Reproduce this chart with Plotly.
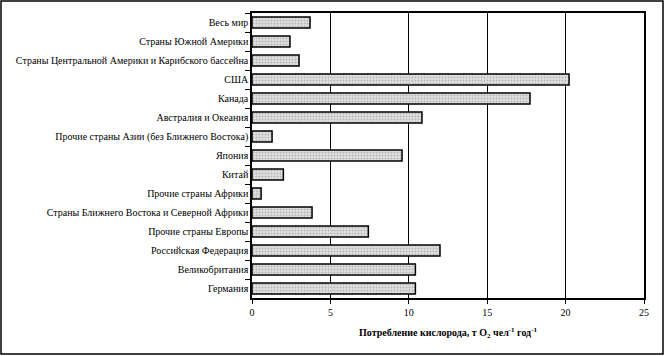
import plotly.graph_objects as go

categories = [
    "Весь мир",
    "Страны Южной Америки",
    "Страны Центральной Америки и Карибского бассейна",
    "США",
    "Канада",
    "Австралия и Океания",
    "Прочие страны Азии (без Ближнего Востока)",
    "Япония",
    "Китай",
    "Прочие страны Африки",
    "Страны Ближнего Востока и Северной Африки",
    "Прочие страны Европы",
    "Российская Федерация",
    "Великобритания",
    "Германия",
]
values = [3.70, 2.42, 3.00, 20.22, 17.73, 10.84, 1.28, 9.57, 2.00, 0.58, 3.83, 7.42, 11.99, 10.42, 10.42]
x_ticks = [0, 5, 10, 15, 20, 25]
x_title = "<b>Потребление кислорода, т O<sub>2</sub> чел<sup>-1</sup> год<sup>-1</sup></b>"

fig = go.Figure(go.Bar(
    x=values, y=categories, orientation="h",
    marker=dict(
        color="#d4d4d4",
        line=dict(color="black", width=1.5),
        pattern=dict(shape=".", fgcolor="#8a8a8a", bgcolor="#e0e0e0", size=3, solidity=0.35),
    ),
    width=0.58,
))

W, H = 665, 356
L, R, T, B = 252, 21, 13, 58
pw, ph = W - L - R, H - T - B

def px(xp):
    return (xp - L) / pw

def py(yp):
    return (H - B - yp) / ph

fig.update_layout(
    width=W, height=H,
    margin=dict(l=L, r=R, t=T, b=B, autoexpand=False),
    paper_bgcolor="white", plot_bgcolor="white",
    font=dict(family="Liberation Serif", size=10, color="black"),
    showlegend=False,
    xaxis=dict(
        range=[0, 25], tickvals=x_ticks, ticktext=[str(v) for v in x_ticks],
        showgrid=True, gridcolor="black", gridwidth=1,
        showline=True, linecolor="black", linewidth=1.5, mirror=True,
        ticks="outside", ticklen=4, tickcolor="black",
        zeroline=False, automargin=False,
        title=dict(text=x_title, font=dict(size=10), standoff=12),
    ),
    yaxis=dict(
        categoryorder="array", categoryarray=categories, autorange="reversed",
        showline=True, linecolor="black", linewidth=1.5, mirror=True,
        ticks="outside", ticklen=5, tickcolor="black", tickson="boundaries",
        showgrid=False, automargin=False,
    ),
    shapes=[dict(
        type="rect", xref="paper", yref="paper",
        x0=px(1), x1=px(663), y0=py(354), y1=py(1),
        line=dict(color="black", width=1.5), fillcolor="rgba(0,0,0,0)", layer="below",
    )],
)

fig.write_html(
    "out.html",
    config={"displayModeBar": False},
    post_script="document.body.style.margin='0';document.body.style.overflow='hidden';",
)
